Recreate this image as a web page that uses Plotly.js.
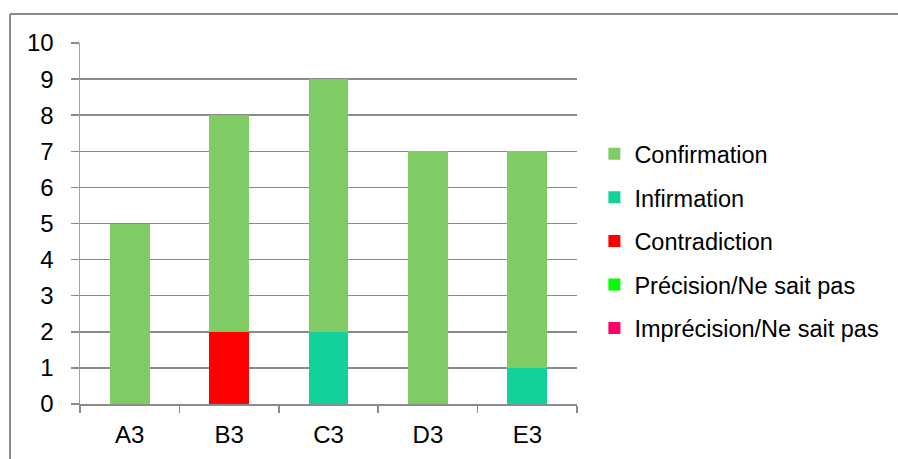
<!DOCTYPE html>
<html>
<head>
<meta charset="utf-8">
<script src="https://cdn.plot.ly/plotly-3.0.1.min.js"></script>
<style>html,body{margin:0;padding:0;background:#fff;}#chart{width:898px;height:459px;}</style>
</head>
<body>
<div id="chart"></div>
<script>
const categories = ["A3", "B3", "C3", "D3", "E3"];
const imprecision = [0, 0, 0, 0, 0];
const precision = [0, 0, 0, 0, 0];
const contradiction = [0, 2, 0, 0, 0];
const infirmation = [0, 0, 2, 0, 1];
const confirmation = [5, 6, 7, 7, 6];
const seriesNames = ["Imprécision/Ne sait pas", "Précision/Ne sait pas", "Contradiction", "Infirmation", "Confirmation"];
const seriesColors = ["#ff0066", "#00ff00", "#ff0000", "#12d19a", "#7ecc63"];
const seriesValues = [imprecision, precision, contradiction, infirmation, confirmation];

const traces = seriesValues.map((vals, i) => ({
  type: "bar",
  x: categories,
  y: vals,
  name: seriesNames[i],
  legendgroup: "g" + i,
  legendrank: 1000 - i,
  marker: {color: seriesColors[i], line: {width: 0}},
  hoverinfo: "skip"
}));

const font = {family: "Liberation Sans, Arial, sans-serif", size: 24, color: "#000"};
const layout = {
  width: 898, height: 459,
  margin: {l: 80, r: 321, t: 43, b: 55},
  barmode: "stack",
  bargap: 0.6,
  paper_bgcolor: "#fff",
  plot_bgcolor: "#fff",
  font: font,
  showlegend: true,
  legend: {
    x: 1.035, xanchor: "left", y: 0.4515, yanchor: "middle",
    traceorder: "grouped", tracegroupgap: 10,
    font: {family: font.family, size: 23.5, color: "#000"},
    bgcolor: "rgba(0,0,0,0)"
  },
  xaxis: {
    type: "category",
    tickson: "boundaries",
    ticks: "outside", ticklen: 7, tickcolor: "#8a8a8a", tickwidth: 1.5,
    showline: true, linecolor: "#8a8a8a", linewidth: 1.5,
    showgrid: false,
    ticklabelstandoff: 9,
    tickfont: font
  },
  yaxis: {
    range: [0, 10], dtick: 1, tick0: 0,
    ticks: "outside", ticklen: 8, tickcolor: "#8a8a8a", tickwidth: 1.5,
    showline: true, linecolor: "#a0a0a0", linewidth: 1.5,
    showgrid: true, gridcolor: "#8a8a8a", gridwidth: 1.5,
    zeroline: false,
    ticklabelstandoff: 12,
    tickfont: font
  },
  shapes: [
    {type: "line", xref: "paper", yref: "paper", x0: -0.1408, x1: 1.7, y0: 1.0803, y1: 1.0803, line: {color: "#8a8a8a", width: 2}},
    {type: "line", xref: "paper", yref: "paper", x0: -0.1408, x1: -0.1408, y0: 1.0803, y1: -0.3, line: {color: "#8a8a8a", width: 2}}
  ]
};
Plotly.newPlot("chart", traces, layout, {displayModeBar: false, staticPlot: true});
</script>
</body>
</html>
